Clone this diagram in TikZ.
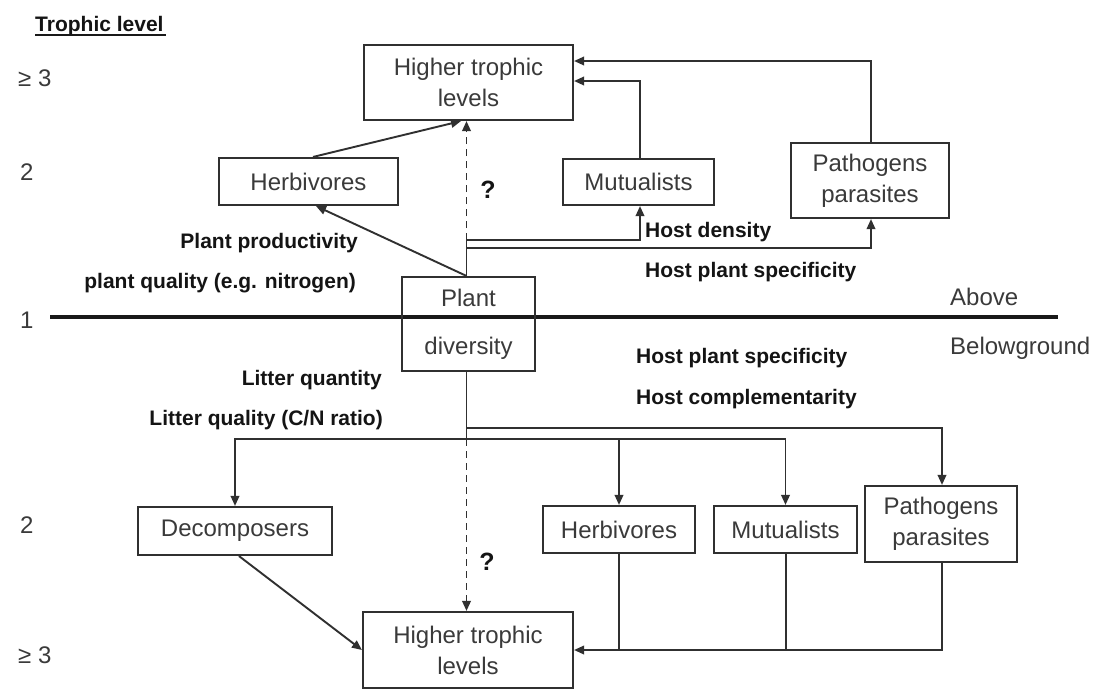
\documentclass[tikz,border=0pt]{standalone}
\usepackage{fontspec}
\setmainfont{Liberation Sans}
\usetikzlibrary{arrows.meta}
\definecolor{ln}{HTML}{303030}
\definecolor{tx}{HTML}{3A3A3A}
\begin{document}
\begin{tikzpicture}[x=1pt,y=-1pt,
 box/.style={draw=ln, line width=2.1pt, rectangle, inner sep=0pt, align=center, text=tx, font=\fontsize{24}{31}\selectfont},
 conn/.style={draw=ln, line width=1.9pt, -{Triangle[length=10pt,width=8.5pt]}},
 plainline/.style={draw=ln, line width=1.9pt},
 dashedconn/.style={conn, dash pattern=on 7pt off 5pt},
 lbl/.style={font=\bfseries\fontsize{21}{25}\selectfont, inner sep=0pt, text=black!92},
 lvl/.style={font=\fontsize{24}{28}\selectfont, inner sep=0pt, text=tx, anchor=west},
]
\useasboundingbox (0,0) rectangle (1103,689);
\fill[white] (0,0) rectangle (1103,689);

% ground line
\draw[line width=4.8pt, draw=black!90] (50,317) -- (1058,317);

% boxes above
\node[box, minimum width=209pt, minimum height=75pt] (htlA) at (468.5,82.5) {Higher trophic\\levels};
\node[box, minimum width=179pt, minimum height=47pt] (herbA) at (308.5,181.5) {Herbivores};
\node[box, minimum width=151pt, minimum height=46pt] (mutA) at (638.5,182) {Mutualists};
\node[box, minimum width=158pt, minimum height=75pt] (pathA) at (870,180.5) {Pathogens\\parasites};
\node[box, minimum width=133pt, minimum height=94pt, font=\fontsize{24}{48}\selectfont] (plant) at (468.5,324) {Plant\\diversity};
% boxes below
\node[box, minimum width=194pt, minimum height=48pt] (decomp) at (235,531) {Decomposers};
\node[box, minimum width=152pt, minimum height=47pt] (herbB) at (619,529.5) {Herbivores};
\node[box, minimum width=143pt, minimum height=47pt] (mutB) at (785.5,529.5) {Mutualists};
\node[box, minimum width=152pt, minimum height=76pt] (pathB) at (941,524) {Pathogens\\parasites};
\node[box, minimum width=210pt, minimum height=76pt] (htlB) at (468,650) {Higher trophic\\levels};

% junction coordinates
\coordinate (pN) at ([xshift=-2pt]plant.north);
\coordinate (jA) at (466.5,240);
\coordinate (jB) at (466.5,248);
\coordinate (pS) at ([xshift=-2pt]plant.south);
\coordinate (jC) at (466.5,428);
\coordinate (jD) at (466.5,439);

% connectors above
\draw[conn] ([xshift=4.5pt]herbA.north) -- ([xshift=-7.5pt]htlA.south);
\draw[conn] (pN) -- ([xshift=7.5pt]herbA.south);
\draw[plainline] (pN) -- (jA);
\draw[conn] (jA) -| ([xshift=1.5pt]mutA.south);
\draw[conn] (jB) -| ([xshift=1pt]pathA.south);
\draw[dashedconn] (jA) -- (pN |- htlA.south);
\draw[conn] ([xshift=1.5pt]mutA.north) |- ([yshift=1.5pt]htlA.east);
\draw[conn] ([xshift=1pt]pathA.north) |- ([yshift=21.5pt]htlA.east);

% connectors below
\draw[plainline] (pS) -- (jD);
\draw[conn] (jC) -| ([xshift=1pt]pathB.north);
\draw[plainline] (decomp.north |- jD) -- (mutB.north |- jD);
\draw[conn] (jD) -| (decomp.north);
\draw[conn] (jD) -| (herbB.north);
\draw[conn] (jD) -| (mutB.north);
\draw[dashedconn] (jD) -- (pS |- htlB.north);
\draw[conn] ([xshift=4pt]decomp.south) -- (htlB.west);
\draw[conn] ([xshift=1pt]pathB.south) |- (htlB.east);
\draw[plainline] (herbB.south) -- (herbB.south |- htlB.east);
\draw[plainline] ([xshift=0.5pt]mutB.south) -- ([xshift=0.5pt]mutB.south |- htlB.east);

% labels
\node[lbl, anchor=east] (lPP) at (358,243) {Plant productivity};
\node[lbl, anchor=east] (lPQ) at (356,283) {plant quality (e.g. nitrogen)};
\node[lbl, anchor=west] (lHD) at (645,232) {Host density};
\node[lbl, anchor=west] (lHS1) at (645,272) {Host plant specificity};
\node[lvl] (above) at (950,297) {Above};
\node[lvl] (below) at (950,348) {Belowground};
\node[lbl, anchor=east] (lLQ) at (382,380) {Litter quantity};
\node[lbl, anchor=east] (lLQ2) at (383,420) {Litter quality (C/N ratio)};
\node[lbl, anchor=west] (lHS2) at (636,358) {Host plant specificity};
\node[lbl, anchor=west] (lHC) at (636,399) {Host complementarity};
\node[lbl, font=\bfseries\fontsize{25}{28}\selectfont] (q1) at (488,190) {?};
\node[lbl, font=\bfseries\fontsize{25}{28}\selectfont] (q2) at (487,562) {?};

% trophic level axis
\node[lbl, anchor=base west] (title) at (35,31) {Trophic level};
\draw[line width=1.8pt, draw=black!90] (35,35) -- (166,35);
\node[lvl] (t3a) at (18,78) {≥ 3};
\node[lvl] (t2a) at (20,172) {2};
\node[lvl] (t1) at (20,320) {1};
\node[lvl] (t2b) at (20,525) {2};
\node[lvl] (t3b) at (18,655) {≥ 3};
\end{tikzpicture}
\end{document}
